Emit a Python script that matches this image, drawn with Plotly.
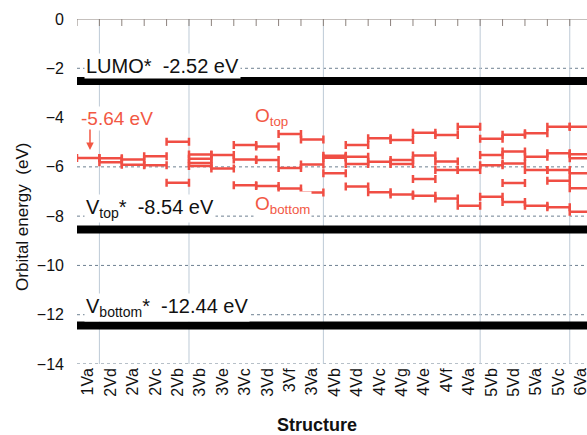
import plotly.graph_objects as go

# ---------------- data ----------------
categories = ["1Va", "2Vd", "2Va", "2Vc", "2Vb", "3Vb", "3Ve", "3Vc", "3Vd", "3Vf", "3Va",
              "4Vb", "4Vd", "4Vc", "4Vg", "4Ve", "4Vf", "4Va", "5Vb", "5Vd", "5Va", "5Vc", "6Va"]

orbital_levels = [
    [-5.64],                                   # 1Va
    [-5.65, -5.81],                            # 2Vd
    [-5.70, -5.91],                            # 2Va
    [-5.57, -5.93],                            # 2Vc
    [-4.98, -6.64],                            # 2Vb
    [-5.50, -5.67, -5.84, -5.97],              # 3Vb
    [-5.52, -6.07],                            # 3Ve
    [-5.11, -5.70, -6.75],                     # 3Vc
    [-5.17, -5.72, -6.78],                     # 3Vd
    [-4.67, -6.05, -6.88],                     # 3Vf
    [-4.89, -5.90, -7.04],                     # 3Va
    [-5.55, -5.63, -6.26],                     # 4Vb
    [-5.11, -5.59, -5.88, -6.80],              # 4Vd
    [-4.84, -5.79, -7.03],                     # 4Vc
    [-4.91, -5.72, -5.88, -7.12],              # 4Vg
    [-4.62, -5.54, -6.49, -7.17],              # 4Ve
    [-4.71, -5.78, -6.13, -7.28],              # 4Vf
    [-4.37, -6.13, -7.58],                     # 4Va
    [-4.86, -5.52, -5.93, -7.21],              # 5Vb
    [-4.70, -5.38, -5.86, -6.66, -7.43],       # 5Vd
    [-4.64, -5.59, -6.13, -7.58],              # 5Va
    [-4.37, -5.45, -6.13, -6.56, -7.64],       # 5Vc
    [-4.37, -5.49, -5.65, -6.26, -6.87, -7.82],  # 6Va
]

ref_names = ["LUMO*", "V<sub>top</sub>*", "V<sub>bottom</sub>*"]
ref_levels = [-2.52, -8.54, -12.44]

y_ticks = [0, -2, -4, -6, -8, -10, -12, -14]
gridline_values = [-2, -6, -8, -10, -12, -14]
group_boundaries = [0.5, 4.5, 10.5, 17.5, 21.5]   # between structure groups

# ---------------- style ----------------
FONT = "Liberation Sans, Arial, sans-serif"
RED = "rgb(240,78,68)"
RED_TEXT = "rgb(242,88,68)"
GRID_H = "rgb(110,128,145)"
GRID_V = "rgb(190,202,214)"
AXIS_COL = "rgb(140,130,125)"
X_END = 22.27

fig = go.Figure()

# orbital levels: horizontal bars spanning each category band (x error bars)
xs, ys = [], []
for i, lv in enumerate(orbital_levels):
    for v in lv:
        xs.append(i)
        ys.append(v)
fig.add_trace(go.Scatter(
    x=xs, y=ys, mode="markers",
    marker=dict(size=1, color="rgba(0,0,0,0)"),
    error_x=dict(type="constant", value=0.5, thickness=2.5, width=4, color=RED),
    hoverinfo="skip", showlegend=False,
))

# reference levels (thick black lines)
for v in ref_levels:
    fig.add_trace(go.Scatter(
        x=[-0.5, len(categories)], y=[v, v], mode="lines",
        line=dict(color="black", width=8), hoverinfo="skip", showlegend=False,
    ))

# category-axis line at 0 with tick marks at the band edges
band_edges = [i - 0.5 for i in range(len(categories) + 1)]
fig.add_trace(go.Scatter(
    x=band_edges, y=[0] * len(band_edges), mode="markers",
    marker=dict(symbol="line-ns", size=10, color=AXIS_COL,
                line=dict(color=AXIS_COL, width=1)),
    hoverinfo="skip", showlegend=False,
))

shapes = []
for g in gridline_values:
    shapes.append(dict(type="line", xref="x domain", x0=0, x1=1, yref="y", y0=g, y1=g,
                       line=dict(color=GRID_H, width=1, dash="dot"), layer="below"))
for b in group_boundaries:
    shapes.append(dict(type="line", xref="x", x0=b, x1=b, yref="y domain", y0=0, y1=1,
                       line=dict(color=GRID_V, width=1), layer="below"))
shapes.append(dict(type="line", xref="x domain", x0=0, x1=1, yref="y", y0=0, y1=0,
                   line=dict(color=AXIS_COL, width=1), layer="above"))

annotations = []
label_y = [-1.9, -7.67, -11.71]
for name, v, ly in zip(ref_names, ref_levels, label_y):
    annotations.append(dict(
        x=-0.2, y=ly, xref="x", yref="y", xanchor="left", yanchor="middle",
        text=f"{name}  {v:.2f} eV", showarrow=False,
        font=dict(family=FONT, size=20, color="#111"),
        bgcolor="white", borderpad=1,
    ))
annotations.append(dict(
    x=-0.42, y=-4.02, xref="x", yref="y", xanchor="left", yanchor="middle",
    text=f"{orbital_levels[0][0]:.2f} eV", showarrow=False,
    font=dict(family=FONT, size=19, color=RED_TEXT), bgcolor="white", borderpad=1,
))
annotations.append(dict(
    x=0.08, y=-5.32, xref="x", yref="y", text="", showarrow=True,
    ax=0, ay=-22, arrowhead=2, arrowsize=1, arrowwidth=1.5, arrowcolor=RED_TEXT,
))
annotations.append(dict(
    x=7.35, y=-3.98, xref="x", yref="y", xanchor="left", yanchor="middle",
    text="O<sub>top</sub>", showarrow=False,
    font=dict(family=FONT, size=19, color=RED_TEXT),
))
annotations.append(dict(
    x=7.35, y=-7.55, xref="x", yref="y", xanchor="left", yanchor="middle",
    text="O<sub>bottom</sub>", showarrow=False,
    font=dict(family=FONT, size=19, color=RED_TEXT), bgcolor="white", borderpad=1,
))
annotations.append(dict(
    x=-0.108, y=0.426, xref="paper", yref="paper", text="Orbital energy  (eV)",
    textangle=-90, showarrow=False, xanchor="center", yanchor="middle",
    font=dict(family=FONT, size=17, color="#111"),
))
annotations.append(dict(
    x=0.47, y=-0.177, xref="paper", yref="paper", text="<b>Structure</b>",
    showarrow=False, xanchor="center", yanchor="middle",
    font=dict(family=FONT, size=18, color="#111"),
))

fig.update_layout(
    template="none",
    width=587, height=435,
    margin=dict(l=77, r=0, t=19, b=71),
    showlegend=False,
    shapes=shapes, annotations=annotations,
    xaxis=dict(
        range=[-0.5, X_END], tickmode="array",
        tickvals=list(range(len(categories))), ticktext=categories,
        tickangle=-90, tickfont=dict(family=FONT, size=16, color="#111"),
        ticklabeloverflow="allow",
        showgrid=False, zeroline=False, ticks="",
    ),
    yaxis=dict(
        range=[-14, 0], tickmode="array", tickvals=y_ticks,
        tickfont=dict(family=FONT, size=16, color="#111"),
        showgrid=False, zeroline=False, ticks="",
        ticklabelstandoff=12,
    ),
)

fig.write_html("out.html")
